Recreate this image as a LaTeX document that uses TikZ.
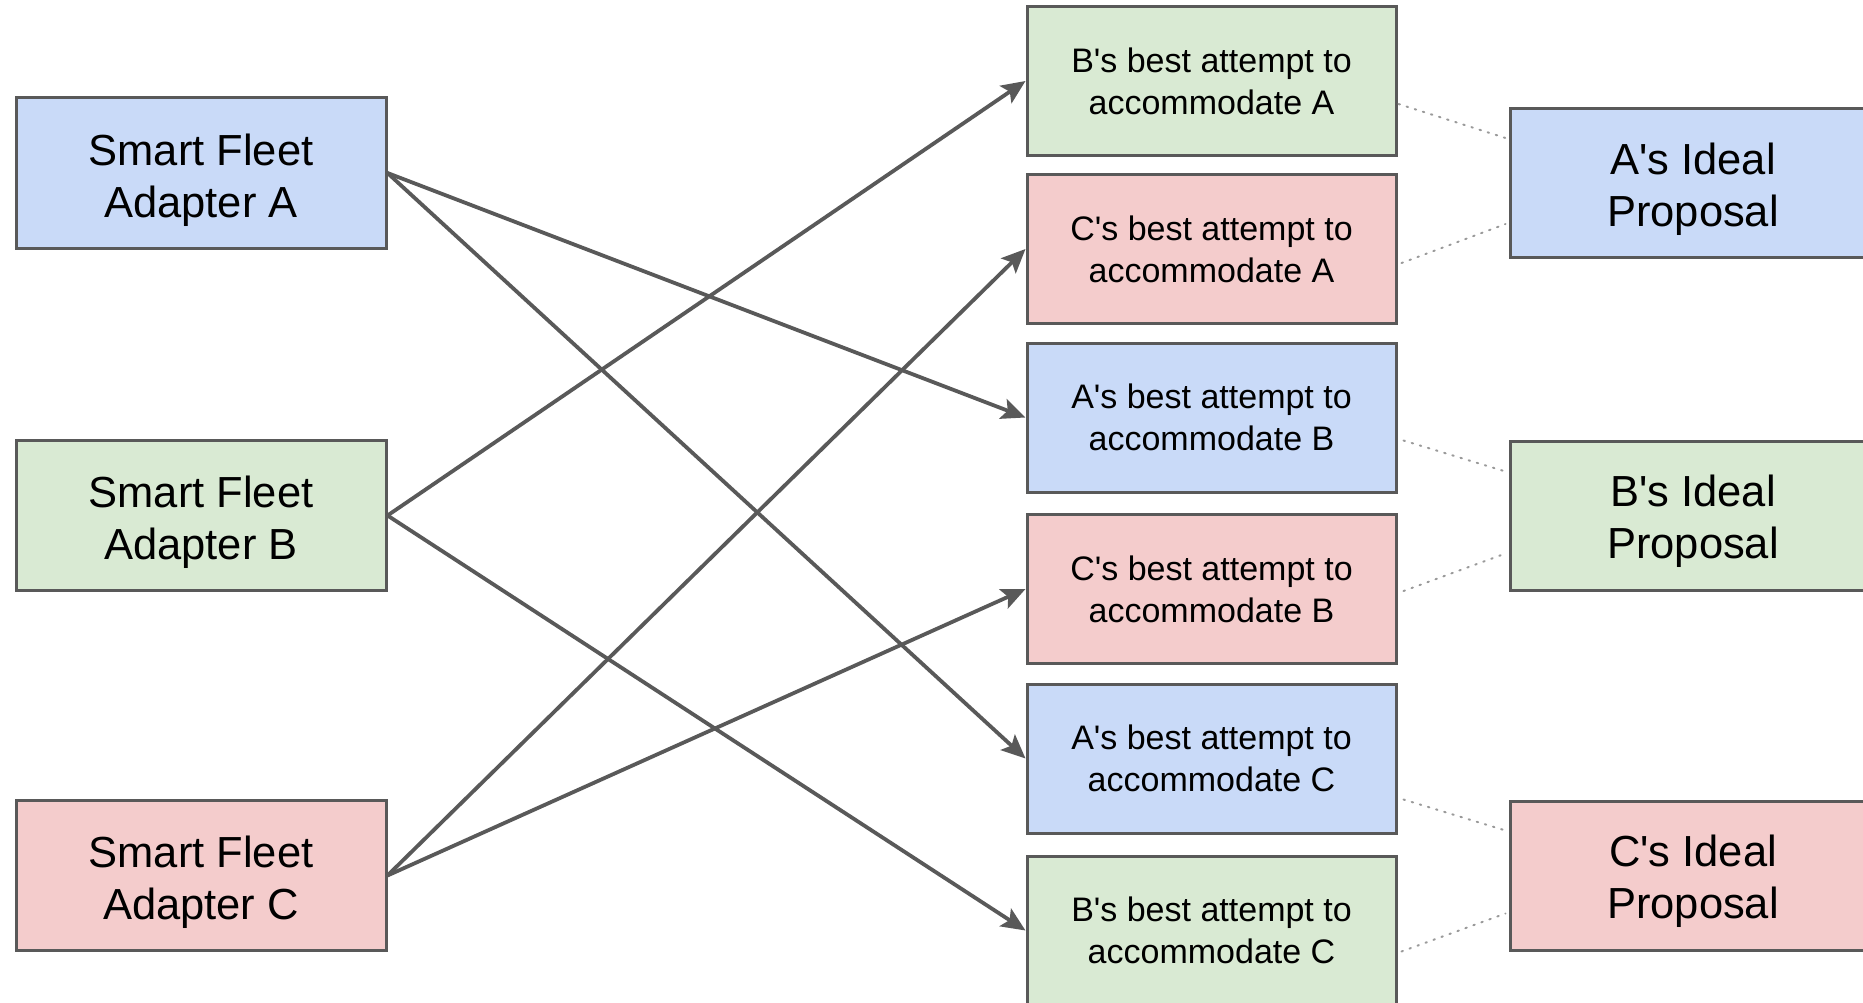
\documentclass[tikz,border=0pt]{standalone}
\usepackage{fontspec}
\setmainfont{Liberation Sans}
\usetikzlibrary{arrows.meta,calc}
\definecolor{fillblue}{HTML}{C9DAF8}
\definecolor{fillgreen}{HTML}{D9EAD3}
\definecolor{fillred}{HTML}{F4CCCC}
\definecolor{edgegray}{HTML}{595959}
\definecolor{dotgray}{HTML}{9A9A9A}
\newcommand{\ap}{\textquotesingle}
\begin{document}
\begin{tikzpicture}[x=1pt,y=-1pt,
  box/.style={draw=edgegray, line width=3pt, rectangle, inner sep=0pt},
  adapter/.style={box, minimum width=370pt, minimum height=150pt},
  attempt/.style={box, minimum width=369pt, minimum height=149pt},
  ideal/.style={box, minimum width=366pt, minimum height=149pt},
  bigtext/.style={align=center, inner sep=0pt, font=\fontsize{43.5}{52}\selectfont},
  smalltext/.style={align=center, inner sep=0pt, font=\fontsize{34}{42}\selectfont},
  link/.style={draw=edgegray, line width=3.8pt, -{Stealth[length=24pt,width=21pt,inset=5pt]}},
  pairing/.style={draw=dotgray, line width=2pt, dash pattern=on 1.5pt off 7pt, line cap=round}
]
\useasboundingbox (0,0) rectangle (1863,1003);

% adapters
\node[adapter, fill=fillblue]  (sa) at (201,173)   {};
\node[adapter, fill=fillgreen] (sb) at (201,515.5) {};
\node[adapter, fill=fillred]   (sc) at (201,875.5) {};
\node[bigtext] (sa-text) at ($(sa)+(0,7)$) {Smart Fleet\\Adapter A};
\node[bigtext] (sb-text) at ($(sb)+(0,7)$) {Smart Fleet\\Adapter B};
\node[bigtext] (sc-text) at ($(sc)+(0,7)$) {Smart Fleet\\Adapter C};

% attempts
\node[attempt, fill=fillgreen] (m1) at (1211.5,81)    {};
\node[attempt, fill=fillred]   (m2) at (1211.5,249)   {};
\node[attempt, fill=fillblue]  (m3) at (1211.5,417.5) {};
\node[attempt, fill=fillred]   (m4) at (1211.5,589)   {};
\node[attempt, fill=fillblue]  (m5) at (1211.5,758.5) {};
\node[attempt, fill=fillgreen] (m6) at (1211.5,930.5) {};
\node[smalltext] (m1-text) at ($(m1)+(0,0)$) {B\ap s best attempt to\\accommodate A};
\node[smalltext] (m2-text) at ($(m2)+(0,0)$) {C\ap s best attempt to\\accommodate A};
\node[smalltext] (m3-text) at ($(m3)+(0,0)$) {A\ap s best attempt to\\accommodate B};
\node[smalltext] (m4-text) at ($(m4)+(0,0)$) {C\ap s best attempt to\\accommodate B};
\node[smalltext] (m5-text) at ($(m5)+(0,0)$) {A\ap s best attempt to\\accommodate C};
\node[smalltext] (m6-text) at ($(m6)+(0,0)$) {B\ap s best attempt to\\accommodate C};

% ideal proposals
\node[ideal, fill=fillblue]  (ia) at (1693,183)   {};
\node[ideal, fill=fillgreen] (ib) at (1693,515.5) {};
\node[ideal, fill=fillred]   (ic) at (1693,875.5) {};
\node[bigtext] (ia-text) at ($(ia)+(0,6)$) {A\ap s Ideal\\Proposal};
\node[bigtext] (ib-text) at ($(ib)+(0,6)$) {B\ap s Ideal\\Proposal};
\node[bigtext] (ic-text) at ($(ic)+(0,6)$) {C\ap s Ideal\\Proposal};

% adapter links
\draw[link] (sa.east) -- (m3.west);
\draw[link] (sa.east) -- (m5.west);
\draw[link] (sb.east) -- (m1.west);
\draw[link] (sb.east) -- (m6.west);
\draw[link] (sc.east) -- (m2.west);
\draw[link] (sc.east) -- (m4.west);

% pairings between attempts and ideal proposals
\coordinate (p1) at ($(m1.north east)+(1,99)$);
\coordinate (p2) at ($(m2.north east)+(4,90)$);
\coordinate (p3) at ($(m3.north east)+(6,99)$);
\coordinate (p4) at ($(m4.north east)+(6,78)$);
\coordinate (p5) at ($(m5.north east)+(6,117)$);
\coordinate (p6) at ($(m6.north east)+(4,97)$);
\coordinate (q1) at ($(ia.north west)+(-3,31)$);
\coordinate (q2) at ($(ia.north west)+(-3,117)$);
\coordinate (q3) at ($(ib.north west)+(-3,32)$);
\coordinate (q4) at ($(ib.north west)+(-3,114)$);
\coordinate (q5) at ($(ic.north west)+(-3,31)$);
\coordinate (q6) at ($(ic.north west)+(-3,114)$);
\foreach \i in {1,...,6}{
  \draw[pairing] (p\i) -- (q\i);
}
\end{tikzpicture}
\end{document}
